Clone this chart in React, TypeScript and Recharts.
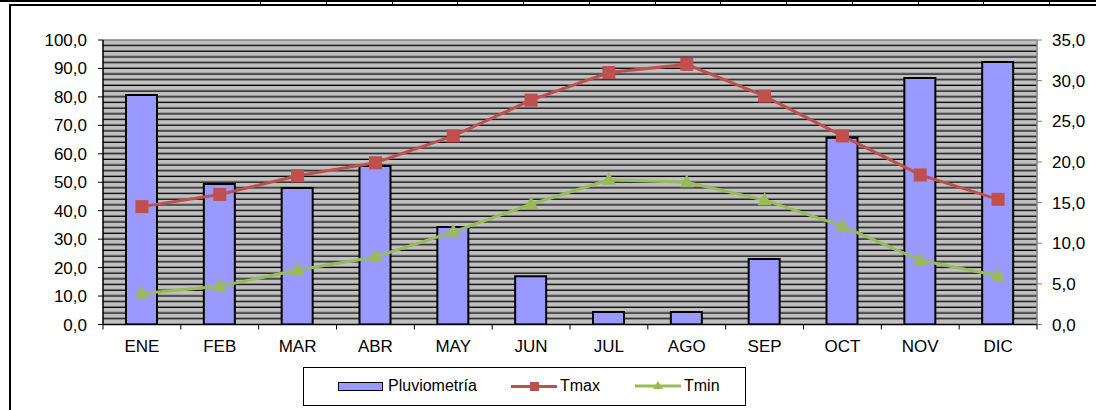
import React from 'react';
import { ComposedChart, Bar, Line, XAxis, YAxis, Legend, ReferenceLine, CartesianGrid } from 'recharts';

const months = ['ENE', 'FEB', 'MAR', 'ABR', 'MAY', 'JUN', 'JUL', 'AGO', 'SEP', 'OCT', 'NOV', 'DIC'];
const pluviometria = [80.7, 49.4, 48.0, 55.7, 34.3, 17.0, 4.4, 4.4, 23.0, 65.6, 86.6, 92.3];
const tmax = [14.5, 16.0, 18.3, 19.9, 23.2, 27.6, 31.0, 32.0, 28.1, 23.2, 18.4, 15.4];
const tmin = [3.8, 4.7, 6.7, 8.3, 11.4, 14.8, 17.8, 17.5, 15.3, 12.1, 7.9, 6.0];

const leftTicks = [0, 10, 20, 30, 40, 50, 60, 70, 80, 90, 100];
const rightTicks = [0, 5, 10, 15, 20, 25, 30, 35];
const gridTicks = Array.from({ length: 49 }, (_, i) => (i + 1) * 2);
const gridShadeTicks = gridTicks.map((v) => v + 0.35);

const data = months.map((m, i) => ({
  month: m,
  Pluviometria: pluviometria[i],
  Tmax: tmax[i],
  Tmin: tmin[i],
}));

const FONT = '"Liberation Sans", Arial, sans-serif';
const fmt = (v: number) => v.toFixed(1).replace('.', ',');

const SquareDot = (props: any) => {
  const { cx, cy, index } = props;
  if (cx == null || cy == null) return null;
  return <rect key={`sq-${index}`} x={cx - 6.5} y={cy - 6.5} width={13} height={13} fill="#c0504d" />;
};

const TriangleDot = (props: any) => {
  const { cx, cy, index } = props;
  if (cx == null || cy == null) return null;
  return (
    <polygon
      key={`tr-${index}`}
      points={`${cx},${cy - 8} ${cx + 7},${cy + 5} ${cx - 7},${cy + 5}`}
      fill="#9bbb59"
    />
  );
};

// Category tick: label centred, tick marks at category boundaries (Excel style)
const MonthTick = (props: any) => {
  const { x, y, payload, index, visibleTicksCount } = props;
  const half = payload && payload.offset ? payload.offset : 0;
  const axisY = y - 15.5;
  const isLast = index === (visibleTicksCount ?? 12) - 1;
  return (
    <g>
      <line x1={x - half} x2={x - half} y1={axisY} y2={axisY + 5} stroke="#000" />
      {isLast && <line x1={x + half} x2={x + half} y1={axisY} y2={axisY + 5} stroke="#000" />}
      <text x={x} y={y} dy="0.71em" textAnchor="middle" fontFamily={FONT} fontSize={17} fill="#000">
        {payload.value}
      </text>
    </g>
  );
};

const LegendBox = () => (
  <div
    style={{
      position: 'relative',
      width: 443,
      height: 39,
      border: '1px solid #000',
      boxSizing: 'border-box',
      background: '#fff',
      fontFamily: FONT,
      fontSize: 16,
      color: '#000',
    }}
  >
    <div style={{ position: 'absolute', left: 34, top: 14, width: 43, height: 7, background: '#9999ff', border: '1px solid #000' }} />
    <div style={{ position: 'absolute', left: 84, top: 8, lineHeight: '20px' }}>Pluviometría</div>
    <div style={{ position: 'absolute', left: 207, top: 17, width: 46, height: 3, background: '#c0504d' }} />
    <div style={{ position: 'absolute', left: 226, top: 14, width: 9, height: 9, background: '#c0504d' }} />
    <div style={{ position: 'absolute', left: 256, top: 8, lineHeight: '20px' }}>Tmax</div>
    <svg style={{ position: 'absolute', left: 331, top: 12 }} width={46} height={12}>
      <line x1={0} y1={6} x2={46} y2={6} stroke="#9bbb59" strokeWidth={3} />
      <polygon points="23,1 28,9 18,9" fill="#9bbb59" />
    </svg>
    <div style={{ position: 'absolute', left: 380, top: 8, lineHeight: '20px' }}>Tmin</div>
  </div>
);

const tickStyle = { fontFamily: FONT, fontSize: 17, fill: '#000' };

export default function App() {
  const dividers = Array.from({ length: 13 }, (_, k) => 260 + 65.75 * k);
  return (
    <div style={{ position: 'absolute', left: 0, top: 0, width: 1096, height: 410, background: '#fff', overflow: 'hidden' }}>
      <ComposedChart
        width={1096}
        height={410}
        data={data}
        margin={{ top: 40, right: 0, bottom: 55.5, left: 43 }}
      >
        <CartesianGrid
          yAxisId="left"
          vertical={false}
          horizontalValues={gridShadeTicks}
          stroke="#7a7a7a"
          fill="#c0c0c0"
          fillOpacity={1}
        />
        <CartesianGrid yAxisId="left" vertical={false} horizontalValues={gridTicks} stroke="#000" />
        <XAxis
          dataKey="month"
          height={30}
          tickLine={false}
          axisLine={{ stroke: '#000', strokeWidth: 1.5 }}
          tickSize={5}
          tickMargin={10.5}
          tick={MonthTick}
          interval={0}
        />
        <YAxis
          yAxisId="left"
          orientation="left"
          width={60}
          domain={[0, 100]}
          ticks={leftTicks}
          interval={0}
          tickFormatter={fmt}
          tick={tickStyle}
          axisLine={{ stroke: '#000', strokeWidth: 1.5 }}
          tickLine={{ stroke: '#000' }}
          tickSize={5}
          tickMargin={11}
          allowDataOverflow
        />
        <YAxis
          yAxisId="right"
          orientation="right"
          width={59}
          domain={[0, 35]}
          ticks={rightTicks}
          interval={0}
          tickFormatter={fmt}
          tick={tickStyle}
          axisLine={{ stroke: '#808080', strokeWidth: 1.5 }}
          tickLine={{ stroke: '#808080' }}
          tickSize={5}
          tickMargin={10}
          allowDataOverflow
        />
        <ReferenceLine yAxisId="left" y={100} stroke="#808080" strokeWidth={1.5} />
        <Bar
          yAxisId="left"
          dataKey="Pluviometria"
          name="Pluviometría"
          fill="#9999ff"
          stroke="#000"
          strokeWidth={2}
          barSize={31}
          isAnimationActive={false}
        />
        <Line
          yAxisId="right"
          dataKey="Tmax"
          stroke="#c0504d"
          strokeWidth={3}
          dot={SquareDot}
          activeDot={false}
          isAnimationActive={false}
        />
        <Line
          yAxisId="right"
          dataKey="Tmin"
          stroke="#9bbb59"
          strokeWidth={3}
          dot={TriangleDot}
          activeDot={false}
          isAnimationActive={false}
        />
        <Legend
          layout="horizontal"
          verticalAlign="middle"
          align="center"
          width={443}
          height={39}
          wrapperStyle={{ position: 'absolute', left: 303, top: 367, width: 443, height: 39 }}
          content={() => <LegendBox />}
        />
      </ComposedChart>
      <div style={{ position: 'absolute', left: 0, top: 0, width: 1096, height: 2, background: '#000' }} />
      {dividers.map((x, i) => (
        <div key={i} style={{ position: 'absolute', left: Math.round(x), top: 0, width: 1, height: 4, background: '#000' }} />
      ))}
      <div style={{ position: 'absolute', left: 9, top: 4, width: 1087, height: 2, background: '#000' }} />
      <div style={{ position: 'absolute', left: 9, top: 4, width: 2, height: 406, background: '#000' }} />
    </div>
  );
}
